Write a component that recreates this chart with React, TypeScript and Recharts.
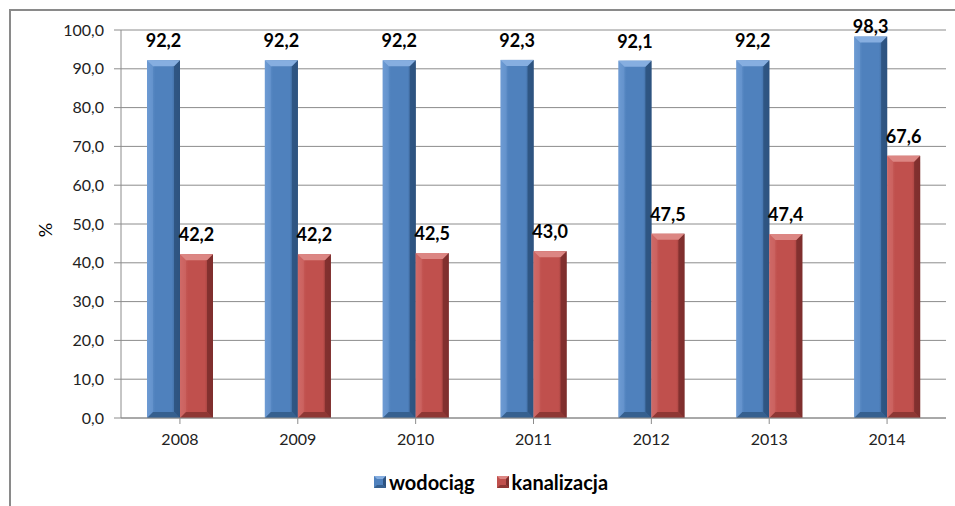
import React from "react";
import { BarChart, Bar, XAxis, YAxis, CartesianGrid, Legend, LabelList } from "recharts";

const years = ["2008", "2009", "2010", "2011", "2012", "2013", "2014"];
const wodociag = [92.2, 92.2, 92.2, 92.3, 92.1, 92.2, 98.3];
const kanalizacja = [42.2, 42.2, 42.5, 43.0, 47.5, 47.4, 67.6];
const yTicks = [0, 10, 20, 30, 40, 50, 60, 70, 80, 90, 100];
const seriesNames = ["wodociąg", "kanalizacja"];

const data = years.map((year, i) => ({ year, wodociag: wodociag[i], kanalizacja: kanalizacja[i] }));

const FONT = "Lato, 'Open Sans', sans-serif";

const PAL = {
  blue: { id: "gb", base: "#4F81BD", light: "#6E9BD3", top: "#86AEE0", dark: "#2E5380", bottom: "#36608F" },
  red: { id: "gr", base: "#C0504D", light: "#CF6A67", top: "#DC8683", dark: "#7E2F2D", bottom: "#8E3734" },
};

const fmt = (v: number) => v.toFixed(1).replace(".", ",");

function BevelBar(props: any) {
  const { x, y, width: w, height: h, pal } = props;
  if (!h || h <= 0) return null;
  const b = Math.min(6, w / 4, h / 2);
  return (
    <g>
      <rect x={x} y={y} width={w} height={h} fill={`url(#${pal.id})`} />
      <polygon points={`${x},${y} ${x + b},${y + b} ${x + b},${y + h - b} ${x},${y + h}`} fill={pal.light} opacity={0.55} />
      <polygon points={`${x + w},${y} ${x + w},${y + h} ${x + w - b},${y + h - b} ${x + w - b},${y + b}`} fill={pal.dark} opacity={0.9} />
      <polygon points={`${x},${y + h} ${x + w},${y + h} ${x + w - b},${y + h - b} ${x + b},${y + h - b}`} fill={pal.bottom} />
      <polygon points={`${x},${y} ${x + w},${y} ${x + w - b},${y + b} ${x + b},${y + b}`} fill={pal.top} />
    </g>
  );
}

function DataLabel(props: any) {
  const { x, y, width, value } = props;
  const cy = Math.max(y - 20, 26);
  return (
    <text x={x + width / 2} y={cy} textAnchor="middle" dominantBaseline="central" fontFamily={FONT} fontWeight={700} fontSize={18} fill="#000">
      {fmt(value)}
    </text>
  );
}

function LegendSwatch({ pal }: { pal: any }) {
  return (
    <svg width={12} height={12} style={{ marginRight: 3 }}>
      <rect x={0} y={0} width={12} height={12} fill={pal.base} />
      <polygon points="0,0 12,0 9,3 3,3" fill={pal.top} />
      <polygon points="12,0 12,12 9,9 9,3" fill={pal.dark} />
      <polygon points="0,12 12,12 9,9 3,9" fill={pal.bottom} />
    </svg>
  );
}

function LegendContent() {
  return (
    <div style={{ display: "flex", justifyContent: "center", alignItems: "center", fontFamily: FONT, fontWeight: 700, fontSize: 20, color: "#000", paddingLeft: 36, paddingTop: 12 }}>
      <div style={{ display: "flex", alignItems: "center", marginRight: 22 }}>
        <LegendSwatch pal={PAL.blue} />
        <span>{seriesNames[0]}</span>
      </div>
      <div style={{ display: "flex", alignItems: "center" }}>
        <LegendSwatch pal={PAL.red} />
        <span>{seriesNames[1]}</span>
      </div>
    </div>
  );
}

export default function App() {
  return (
    <div style={{ position: "absolute", left: 0, top: 0, width: 955, height: 506, background: "#fff", overflow: "hidden" }}>
      <div style={{ position: "absolute", left: 9, top: 9, width: 1000, height: 600, borderLeft: "2px solid #8a8a8a", borderTop: "2px solid #8a8a8a" }} />
      <BarChart width={955} height={506} data={data} margin={{ top: 30, right: 9, left: 0, bottom: 8 }} barGap={0} barSize={33} style={{ position: "absolute", left: 0, top: 0 }}>
        <defs>
          {[PAL.blue, PAL.red].map((p) => (
            <linearGradient key={p.id} id={p.id} x1="0" y1="0" x2="1" y2="0">
              <stop offset="0%" stopColor={p.light} />
              <stop offset="25%" stopColor={p.base} />
              <stop offset="75%" stopColor={p.base} />
              <stop offset="100%" stopColor={p.dark} />
            </linearGradient>
          ))}
        </defs>
        <CartesianGrid vertical={false} stroke="#8c8c8c" strokeWidth={1} />
        <XAxis dataKey="year" height={40} stroke="#8c8c8c" tickLine={{ stroke: "#8c8c8c" }} tickSize={6} tick={{ fontFamily: FONT, fontSize: 16, fill: "#222" }} tickMargin={10} interval={0} />
        <YAxis
          width={121}
          domain={[0, 100]}
          ticks={yTicks}
          tickFormatter={fmt}
          stroke="#8c8c8c"
          tickSize={7}
          tickMargin={10}
          tick={{ fontFamily: FONT, fontSize: 16, fill: "#222" }}
          label={(p: any) => {
            const vb = p.viewBox;
            const cx = vb.x + 45;
            const cy = vb.y + vb.height / 2 + 6;
            return (
              <text x={cx} y={cy} transform={`rotate(-90 ${cx} ${cy})`} textAnchor="middle" dominantBaseline="central" fontFamily={FONT} fontSize={18} fill="#000">
                %
              </text>
            );
          }}
        />
        <Legend verticalAlign="bottom" height={40} content={() => <LegendContent />} />
        <Bar dataKey="wodociag" name={seriesNames[0]} isAnimationActive={false} shape={(p: any) => <BevelBar {...p} pal={PAL.blue} />}>
          <LabelList dataKey="wodociag" content={(p: any) => <DataLabel {...p} />} />
        </Bar>
        <Bar dataKey="kanalizacja" name={seriesNames[1]} isAnimationActive={false} shape={(p: any) => <BevelBar {...p} pal={PAL.red} />}>
          <LabelList dataKey="kanalizacja" content={(p: any) => <DataLabel {...p} />} />
        </Bar>
      </BarChart>
    </div>
  );
}
